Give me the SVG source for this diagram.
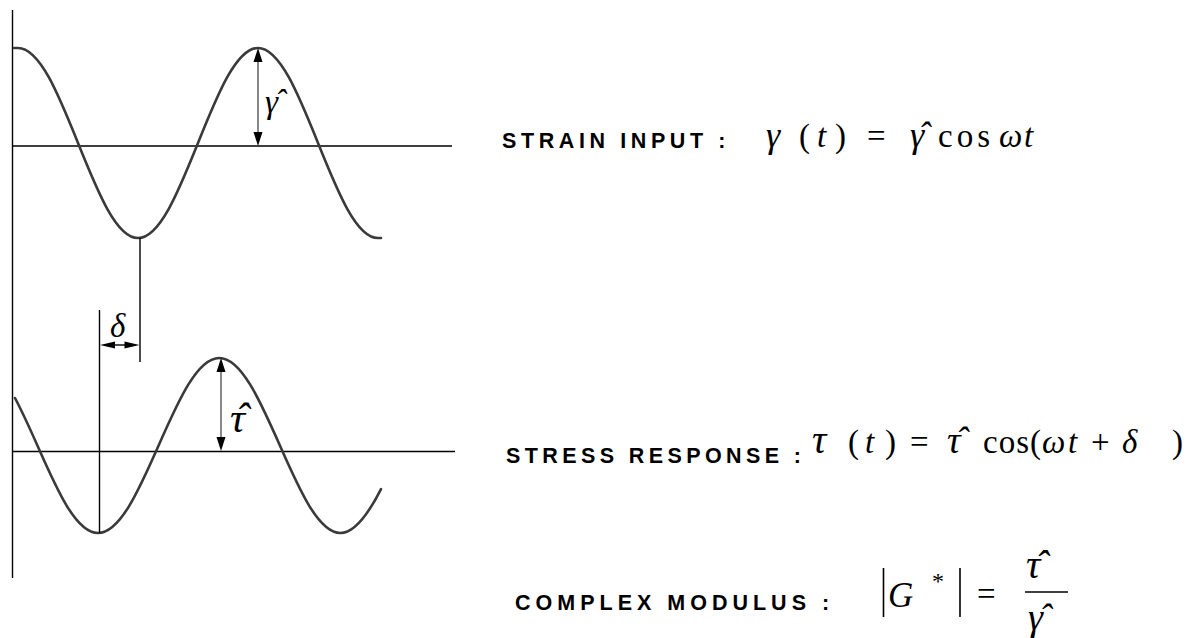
<svg xmlns="http://www.w3.org/2000/svg" width="1198" height="638" viewBox="0 0 1198 638">
<style>
.ax{stroke:#000;stroke-width:1.4;fill:none}
.wave{stroke:#3a3a3a;stroke-width:2.6;fill:none;stroke-linecap:round}
.amp{stroke:#555;stroke-width:1.4;fill:none}
.lbl{font-family:"Liberation Sans",Arial,sans-serif;font-weight:bold;font-size:21.5px;fill:#000}
.m{font-family:"Liberation Serif","Times New Roman",serif;font-size:33px;fill:#000}
.i{font-style:italic}
</style>
<rect width="1198" height="638" fill="#fff"/>
<g id="axes">
<line class="ax" x1="12.5" y1="10" x2="12.5" y2="578"/>
<line class="ax" x1="12.5" y1="146" x2="452" y2="146"/>
<line class="ax" x1="13" y1="451.5" x2="455" y2="451.5"/>
</g>
<g id="strain-wave">
<path class="wave" d="M14,48 L18,48 C39.7,48 58.4,94.3 78,143 C97.6,191.7 116.3,238 138,238 C159.7,238 178.4,191.7 198,143 C217.6,94.3 236.3,48 258,48 C279.7,48 298.4,94.3 318,143 C337.6,191.7 356.3,238 378,238 L381,238"/>
</g>
<g id="stress-wave">
<path class="wave" d="M15,398 C22.5,412.2 29.9,428.6 37.4,445.5 C57.2,490.4 76.1,533 98,533 C119.9,533 138.8,490.4 158.6,445.5 C178.4,400.6 197.3,358 219.3,358 C241.1,358 260.1,400.6 279.9,445.5 C299.7,490.4 318.6,533 340.5,533 C354,533 367.5,515.6 381,489.1"/>
</g>
<g id="connectors">
<line class="ax" x1="140" y1="238" x2="140" y2="362"/>
<line class="ax" x1="99.5" y1="310" x2="99.5" y2="533"/>
<line class="ax" x1="112" y1="345" x2="128" y2="345"/>
<polygon points="100,345 115,341.5 115,348.5" fill="#000"/>
<polygon points="139.5,345 124.5,341.5 124.5,348.5" fill="#000"/>
<line class="amp" x1="258" y1="60" x2="258" y2="134"/>
<polygon points="258,48 253.5,62 262.5,62" fill="#000"/>
<polygon points="258,146 253.5,132 262.5,132" fill="#000"/>
<line class="amp" x1="221" y1="370" x2="221" y2="440"/>
<polygon points="221,358 216.5,372 225.5,372" fill="#000"/>
<polygon points="221,451 216.5,437 225.5,437" fill="#000"/>
</g>
<g id="plot-labels">
<text class="m i" x="265" y="113" style="letter-spacing:-3px">γˆ</text>
<text class="m i" x="230" y="432" style="font-size:42px;letter-spacing:-9.5px">τˆ</text>
<text class="m i" x="110" y="337">δ</text>
</g>
<g id="strain-input">
<text class="lbl" x="502" y="148" letter-spacing="4.6">STRAIN INPUT :</text>
<text class="m i" x="766" y="147" style="font-size:36px">γ</text>
<text class="m" x="799" y="147">(</text>
<text class="m i" x="817" y="147">t</text>
<text class="m" x="835" y="147">)</text>
<text class="m" x="867" y="147">=</text>
<text class="m i" x="910" y="147" style="font-size:36px;letter-spacing:-6px">γˆ</text>
<text class="m" x="938" y="147" letter-spacing="4">cos</text>
<text class="m i" x="999" y="147">ω</text>
<text class="m i" x="1024" y="147">t</text>
</g>
<g id="stress-response">
<text class="lbl" x="506" y="463" letter-spacing="4.4">STRESS RESPONSE :</text>
<text class="m i" x="812" y="453" style="font-size:40px">τ</text>
<text class="m" x="848" y="453">(</text>
<text class="m i" x="865" y="453">t</text>
<text class="m" x="885" y="453">)</text>
<text class="m" x="910" y="453">=</text>
<text class="m i" x="947" y="453" style="font-size:38px;letter-spacing:-5px">τˆ</text>
<text class="m" x="983" y="453" letter-spacing="1">cos(</text>
<text class="m i" x="1042" y="453">ω</text>
<text class="m i" x="1068" y="453">t</text>
<text class="m" x="1091" y="453">+</text>
<text class="m i" x="1122" y="453">δ</text>
<text class="m" x="1172" y="453">)</text>
</g>
<g id="complex-modulus">
<text class="lbl" x="515" y="610" letter-spacing="5">COMPLEX MODULUS :</text>
<line x1="883.5" y1="568" x2="883.5" y2="617" stroke="#000" stroke-width="1.6"/>
<text class="m i" x="888" y="607" style="font-size:35px">G</text>
<text class="m" x="932" y="589" style="font-size:24px">*</text>
<line x1="960" y1="568" x2="960" y2="617" stroke="#000" stroke-width="1.6"/>
<text class="m" x="977" y="605">=</text>
<text class="m i" x="1026" y="578" style="font-size:40px;letter-spacing:-5px">τˆ</text>
<line x1="1025" y1="592" x2="1068" y2="592" stroke="#000" stroke-width="1.4"/>
<text class="m i" x="1028" y="630" style="font-size:38px;letter-spacing:-4px">γˆ</text>
</g>
</svg>
